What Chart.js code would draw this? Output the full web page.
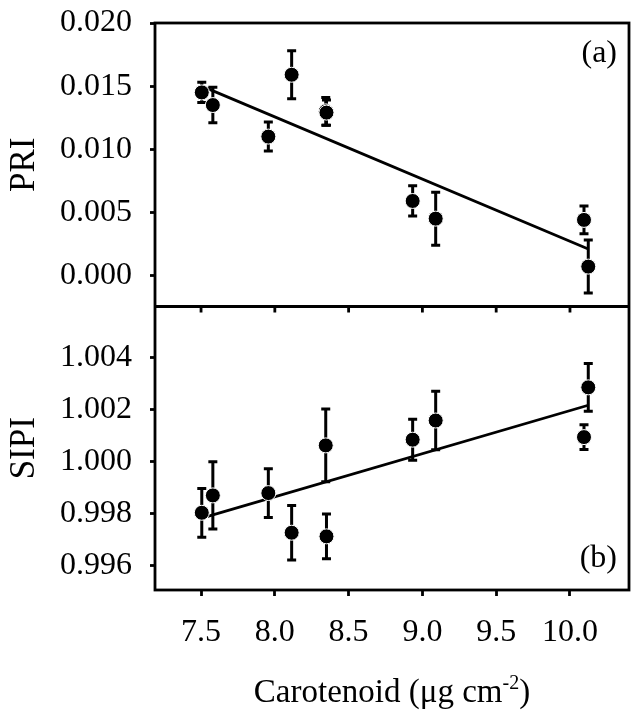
<!DOCTYPE html>
<html lang="en">
<head>
    <meta charset="UTF-8">
    <title>PRI and SIPI vs Carotenoid</title>
    <script src="https://cdn.jsdelivr.net/npm/chart.js"></script>
    <style>
        body {
            margin: 0;
            background: #fff;
        }
        .wrap {
            position: relative;
            width: 640px;
            height: 721px;
        }
    </style>
</head>
<body>
    <div class="wrap"><canvas id="chart"></canvas></div>

    <script>
        // carotenoid content (x), shared by both panels
        const carotenoid = [7.505, 7.58, 7.956, 8.114, 8.345, 8.35, 8.934, 9.09, 10.095, 10.124];

        // panel (a)
        const pri = [0.0145, 0.0135, 0.0110, 0.0159, 0.0130, 0.0129, 0.0059, 0.0045, 0.0044, 0.0007];
        const priErr = [0.0008, 0.0014, 0.00115, 0.0019, 0.0011, 0.0010, 0.0012, 0.0021, 0.0011, 0.0021];
        const priFitX = [7.505, 10.124];
        const priFitY = [0.0150, 0.0021];

        // panel (b)
        const sipi = [0.99802, 0.99869, 0.99878, 0.99725, 1.00062, 0.99711, 1.00084, 1.00158, 1.00094, 1.00286];
        const sipiErr = [0.00094, 0.0013, 0.00094, 0.00105, 0.0014, 0.00086, 0.00079, 0.00113, 0.00048, 0.00092];
        const sipiFitX = [7.505, 10.124];
        const sipiFitY = [0.99781, 1.00217];

        const xTicks = [7.5, 8.0, 8.5, 9.0, 9.5, 10.0];
        const priTicks = [0.000, 0.005, 0.010, 0.015, 0.020];
        const sipiTicks = [0.996, 0.998, 1.000, 1.002, 1.004];

        const serif = "'Liberation Serif', 'Times New Roman', serif";

        const pts = (xs, ys) => xs.map((x, i) => ({ x: x, y: ys[i] }));

        const errorBars = {
            id: 'errorBars',
            beforeDatasetsDraw(chart) {
                const ctx = chart.ctx;
                const xs = chart.scales.x;
                ctx.save();
                ctx.strokeStyle = '#000';
                ctx.lineWidth = 3;
                [[chart.scales.yA, pri, priErr], [chart.scales.yB, sipi, sipiErr]].forEach(([ys, vals, errs]) => {
                    vals.forEach((v, i) => {
                        const px = xs.getPixelForValue(carotenoid[i]);
                        const top = ys.getPixelForValue(v + errs[i]);
                        const bot = ys.getPixelForValue(v - errs[i]);
                        ctx.beginPath();
                        ctx.moveTo(px, top); ctx.lineTo(px, bot);
                        ctx.moveTo(px - 4.5, top); ctx.lineTo(px + 4.5, top);
                        ctx.moveTo(px - 4.5, bot); ctx.lineTo(px + 4.5, bot);
                        ctx.stroke();
                    });
                });
                ctx.restore();
            }
        };

        const frame = {
            id: 'frame',
            afterDraw(chart) {
                const ctx = chart.ctx;
                const a = chart.chartArea;
                const xs = chart.scales.x;
                const sep = chart.scales.yA.bottom;
                ctx.save();
                ctx.strokeStyle = '#000';
                ctx.lineWidth = 2.8;
                ctx.strokeRect(a.left, a.top, a.right - a.left, a.bottom - a.top);
                ctx.beginPath();
                ctx.moveTo(a.left, sep); ctx.lineTo(a.right, sep);
                xTicks.forEach(v => {
                    const px = xs.getPixelForValue(v);
                    ctx.moveTo(px, sep); ctx.lineTo(px, sep + 6);
                });
                ctx.stroke();

                // panel letters
                ctx.fillStyle = '#000';
                ctx.font = '32px ' + serif;
                ctx.textAlign = 'right';
                ctx.textBaseline = 'middle';
                ctx.fillText('(a)', a.right - 12, a.top + 31);
                ctx.fillText('(b)', a.right - 12, a.bottom - 31);

                // x axis title with superscript
                const main = 'Carotenoid (μg cm';
                const sup = '-2';
                const close = ')';
                ctx.textAlign = 'left';
                ctx.textBaseline = 'alphabetic';
                ctx.font = '33px ' + serif;
                const w1 = ctx.measureText(main).width;
                const w3 = ctx.measureText(close).width;
                ctx.font = '20px ' + serif;
                const w2 = ctx.measureText(sup).width;
                const cx = (a.left + a.right) / 2;
                let x0 = cx - (w1 + w2 + w3) / 2;
                const base = 702;
                ctx.font = '33px ' + serif;
                ctx.fillText(main, x0, base);
                ctx.font = '20px ' + serif;
                ctx.fillText(sup, x0 + w1, base - 13);
                ctx.font = '33px ' + serif;
                ctx.fillText(close, x0 + w1 + w2, base);
                ctx.restore();
            }
        };

        const yAxis = (min, max, ticks, title) => ({
            type: 'linear',
            position: 'left',
            stack: 'panels',
            stackWeight: 1,
            min: min,
            max: max,
            afterBuildTicks: s => { s.ticks = ticks.map(v => ({ value: v })); },
            afterFit: s => { s.width = 155; s.paddingTop = 0; s.paddingBottom = 0; },
            border: { display: false },
            grid: { drawOnChartArea: false, drawTicks: true, tickLength: 5, tickWidth: 2.8, tickColor: '#000' },
            ticks: {
                color: '#000',
                padding: 18,
                font: { family: serif, size: 32 },
                callback: v => v.toFixed(3)
            },
            title: {
                display: true,
                text: title,
                color: '#000',
                padding: { top: 7, bottom: 0 },
                font: { family: serif, size: 35, lineHeight: 1 }
            }
        });

        new Chart(document.getElementById('chart'), {
            type: 'scatter',
            data: {
                datasets: [
                    {
                        data: pts(carotenoid, pri), yAxisID: 'yA',
                        pointRadius: 7.5, pointBackgroundColor: '#000',
                        pointBorderColor: '#fff', pointBorderWidth: 1
                    },
                    {
                        type: 'line', data: pts(priFitX, priFitY), yAxisID: 'yA',
                        borderColor: '#000', borderWidth: 2.8, pointRadius: 0, fill: false
                    },
                    {
                        data: pts(carotenoid, sipi), yAxisID: 'yB',
                        pointRadius: 7.5, pointBackgroundColor: '#000',
                        pointBorderColor: '#fff', pointBorderWidth: 1
                    },
                    {
                        type: 'line', data: pts(sipiFitX, sipiFitY), yAxisID: 'yB',
                        borderColor: '#000', borderWidth: 2.8, pointRadius: 0, fill: false
                    }
                ]
            },
            options: {
                responsive: true,
                maintainAspectRatio: false,
                animation: false,
                layout: { padding: { left: 0, top: 23, right: 11, bottom: 0 } },
                plugins: {
                    legend: { display: false },
                    tooltip: { enabled: false }
                },
                scales: {
                    x: {
                        type: 'linear',
                        position: 'bottom',
                        min: 7.188,
                        max: 10.40,
                        afterBuildTicks: s => { s.ticks = xTicks.map(v => ({ value: v })); },
                        afterFit: s => { s.height = 131; s.paddingLeft = 0; s.paddingRight = 0; },
                        border: { display: false },
                        grid: { drawOnChartArea: false, drawTicks: true, tickLength: 6, tickWidth: 2.8, tickColor: '#000' },
                        ticks: {
                            color: '#000',
                            padding: 17,
                            maxRotation: 0,
                            font: { family: serif, size: 32 },
                            callback: v => v.toFixed(1)
                        }
                    },
                    // stacked scales are placed bottom-first, so (b) comes before (a)
                    yB: yAxis(0.99504, 1.00598, sipiTicks, 'SIPI'),
                    yA: yAxis(-0.00246, 0.0200, priTicks, 'PRI')
                }
            },
            plugins: [errorBars, frame]
        });
    </script>
</body>
</html>
